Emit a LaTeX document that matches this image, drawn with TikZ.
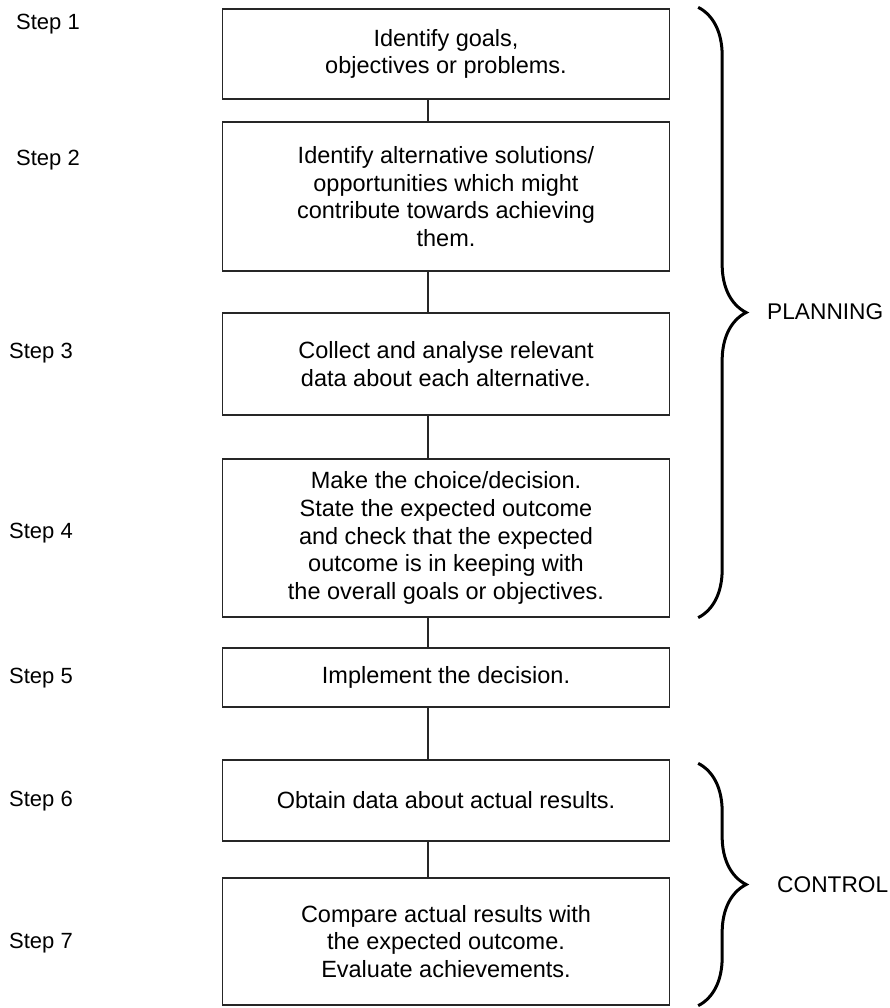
\documentclass[tikz,border=0pt]{standalone}
\usepackage{fontspec}
\setmainfont{Liberation Sans}
\usetikzlibrary{decorations.pathreplacing}

\tikzset{
  stagebox/.style={draw=black!85, line width=1.3pt, minimum width=447pt,
    align=center, inner sep=0pt, font=\fontsize{23.5}{27.7}\selectfont},
  steplabel/.style={anchor=west, inner sep=0pt},
  link/.style={draw=black!85, line width=1.3pt},
  phase/.style={decorate, decoration={brace, amplitude=48pt}, line width=3pt},
  phaselabel/.style={anchor=west, inner sep=0pt, font=\fontsize{22.7}{26}\selectfont},
}

\begin{document}
\begin{tikzpicture}[x=1pt,y=-1pt,font=\fontsize{22}{26.5}\selectfont]
  \useasboundingbox (0,0) rectangle (889,1008);
  \coordinate (spine) at (428,0);

  %%% the seven boxes
  \node[stagebox, minimum height=90pt] (goals) at (446,54)
    {Identify goals,\\ objectives or problems.};
  \node[stagebox, minimum height=149pt] (options) at (446,196.5)
    {Identify alternative solutions/\\ opportunities which might\\
     contribute towards achieving\\ them.};
  \node[stagebox, minimum height=102pt] (data) at (446,364)
    {Collect and analyse relevant\\ data about each alternative.};
  \node[stagebox, minimum height=158pt] (decide) at (446,538)
    {Make the choice/decision.\\ State the expected outcome\\
     and check that the expected\\ outcome is in keeping with\\
     the overall goals or objectives.};
  \node[stagebox, minimum height=59pt] (implement) at (446,677.5)
    {Implement the decision.};
  \node[stagebox, minimum height=81pt] (results) at (446,800.5)
    {Obtain data about actual results.};
  \node[stagebox, minimum height=127pt] (compare) at (446,941.5)
    {Compare actual results with\\ the expected outcome.\\ Evaluate achievements.};

  %%% step numbers on the left
  \node[steplabel] (step1) at (16,24) {Step 1};
  \node[steplabel] (step2) at (16,160) {Step 2};
  \node[steplabel] (step3) at (9,353) {Step 3};
  \node[steplabel] (step4) at (9,533) {Step 4};
  \node[steplabel] (step5) at (9,678) {Step 5};
  \node[steplabel] (step6) at (9,801) {Step 6};
  \node[steplabel] (step7) at (9,943) {Step 7};

  %%% vertical links
  \draw[link] (goals.south -| spine) -- (options.north -| spine);
  \draw[link] (options.south -| spine) -- (data.north -| spine);
  \draw[link] (data.south -| spine) -- (decide.north -| spine);
  \draw[link] (decide.south -| spine) -- (implement.north -| spine);
  \draw[link] (implement.south -| spine) -- (results.north -| spine);
  \draw[link] (results.south -| spine) -- (compare.north -| spine);

  %%% braces
  \draw[phase] ([xshift=28pt,yshift=1pt]goals.north east)
    -- ([xshift=28pt]decide.south east);
  \node[phaselabel] (plan) at (767,312) {PLANNING};
  \draw[phase] ([xshift=28pt,yshift=-4pt]results.north east)
    -- ([xshift=28pt]compare.south east);
  \node[phaselabel] (ctrl) at (777,885) {CONTROL};
\end{tikzpicture}
\end{document}
